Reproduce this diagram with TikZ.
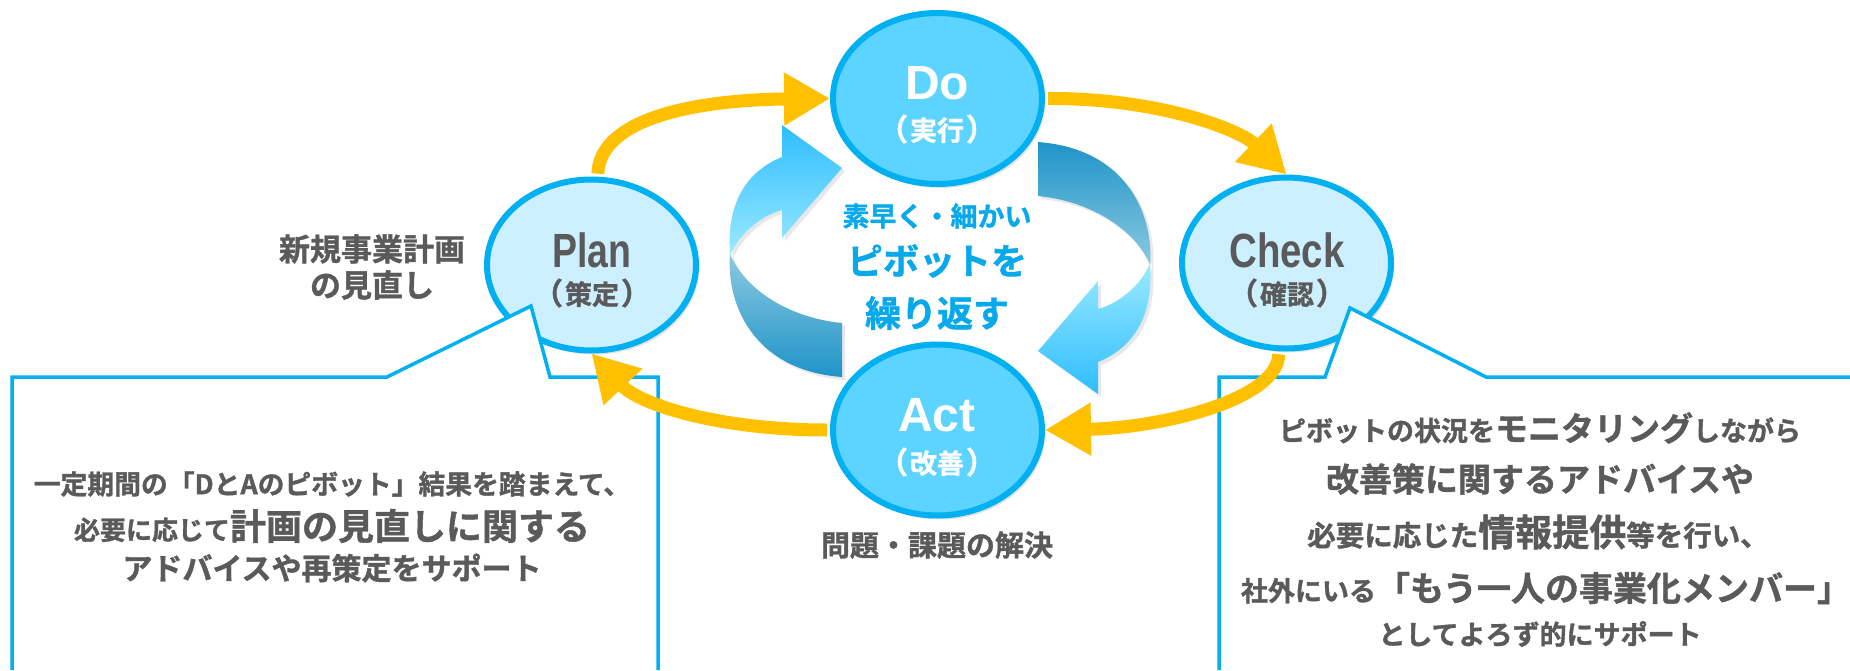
\documentclass[tikz,border=0pt]{standalone}
\usepackage{fontspec}
\usetikzlibrary{arrows.meta,shapes.geometric,shadows}
\newfontfamily\jp[FakeBold=1.2]{Noto Sans CJK JP Bold}
\newfontfamily\lat{Liberation Sans Bold}
\definecolor{cyanline}{HTML}{00B0F0}
\definecolor{dofill}{HTML}{5DD3FF}
\definecolor{planfill}{HTML}{CCF0FF}
\definecolor{orangearr}{HTML}{FFC000}
\definecolor{graytxt}{HTML}{5A5A5A}
\definecolor{bluetxt}{HTML}{08A9EA}
\definecolor{arrA}{HTML}{2EBDFF}
\definecolor{arrB}{HTML}{9CEAFF}
\definecolor{arrC}{HTML}{8CC9E0}
\definecolor{arrD}{HTML}{1E94C8}
\newcommand{\fz}[1]{\fontsize{#1pt}{#1pt}\selectfont}
\newcommand{\paren}[1]{{\fz{30}（}\hspace{2pt}#1\hspace{2pt}{\fz{30}）}}
\tikzset{
  phase/.style={ellipse, draw=cyanline, line width=6pt, inner sep=0pt,
    minimum width=209pt, minimum height=171pt,
    drop shadow={opacity=0.22, shadow xshift=3pt, shadow yshift=-4pt}},
  cyc/.style={draw=orangearr, line width=13pt, shorten <=3pt,
    -{Triangle[length=46pt,width=50pt]}},
  callout/.style={draw=cyanline, line width=3.5pt, line join=miter},
  gtxt/.style={text=graytxt, inner sep=0pt, font=\jp},
  wtxt/.style={text=white, inner sep=0pt},
  btxt/.style={text=bluetxt, inner sep=0pt, font=\jp},
  ribbon/.style={drop shadow={opacity=0.18, shadow xshift=3pt, shadow yshift=-3pt}}
}
\begin{document}
\begin{tikzpicture}[x=1pt,y=-1pt]
\useasboundingbox (0,0) rectangle (1850,670);

% blue circular arrows
\shade[ribbon, top color=arrA, bottom color=arrB]
  (782,125) -- (842,168) -- (782,238) -- (782,210)
  .. controls (760,216) and (738,235) .. (730,256)
  .. controls (726,205) and (745,172) .. (782,157) -- cycle;
\shade[ribbon, top color=arrC, bottom color=arrD]
  (730,254) .. controls (726,300) and (750,370) .. (842,377)
  -- (842,323) .. controls (790,318) and (745,290) .. (730,254) -- cycle;
\shade[ribbon, top color=arrD, bottom color=arrC]
  (1150,265) .. controls (1154,219) and (1130,149) .. (1038,142)
  -- (1038,196) .. controls (1090,201) and (1135,229) .. (1150,265) -- cycle;
\shade[ribbon, top color=arrB, bottom color=arrA]
  (1098,394) -- (1038,351) -- (1098,281) -- (1098,309)
  .. controls (1120,303) and (1142,284) .. (1150,263)
  .. controls (1154,314) and (1135,347) .. (1098,362) -- cycle;

% phase ellipses
\node[phase, fill=dofill] (do) at (937.5,98.5) {};
\node[phase, fill=dofill] (act) at (937.5,430) {};
\node[phase, fill=planfill] (plan) at (591.5,265) {};
\node[phase, fill=planfill] (check) at (1286.5,263) {};

% callout boxes
\fill[white] (12,670) -- (12,377) -- (387,377) -- (531,306) -- (550,377) -- (658,377) -- (658,670) -- cycle;
\draw[callout] (12,670) -- (12,377) -- (387,377) -- (531,306) -- (550,377) -- (658,377) -- (658,670);
\fill[white] (1219,670) -- (1219,377) -- (1325,377) -- (1350,308) -- (1486,377) -- (1850,377) -- (1850,670) -- cycle;
\draw[callout] (1219,670) -- (1219,377) -- (1325,377) -- (1350,308) -- (1486,377) -- (1850,377);

% orange cycle arrows
\draw[cyc] (plan.86) .. controls (600,120) and (690,100) .. (do.west);
\draw[cyc] (do.east) .. controls (1160,98) and (1240,130) .. (check.north);
\draw[cyc] (check.265) .. controls (1278,400) and (1160,428) .. (act.east);
\draw[cyc] (act.west) .. controls (720,430) and (640,405) .. (plan.south);

% phase titles
\node[wtxt, font={\lat\fz{48}}] (doT) at (937,83) {Do};
\node[wtxt, font={\jp\fz{27}}] (doS) at (937,129) {\paren{実行}};
\node[wtxt, font={\lat\fz{48}}] (actT) at (937,415) {Act};
\node[wtxt, font={\jp\fz{27}}] (actS) at (937,462) {\paren{改善}};
\node[gtxt, font={\lat\fz{48}}] (planT) at (592,250) {\scalebox{0.78}[1]{Plan}};
\node[gtxt, font={\jp\fz{27}}] (planS) at (592,293) {\paren{策定}};
\node[gtxt, font={\lat\fz{48}}] (checkT) at (1287,250) {\scalebox{0.8}[1]{Check}};
\node[gtxt, font={\jp\fz{27}}] (checkS) at (1287,293) {\paren{確認}};

% side notes
\node[gtxt, font={\jp\fz{31}}] (pn1) at (372,249) {新規事業計画};
\node[gtxt, font={\jp\fz{31}}] (pn2) at (372,285) {の見直し};
\node[gtxt, font={\jp\fz{29}}] (an1) at (937,545) {問題・課題の解決};

% centre text
\node[btxt, font={\jp\fz{27}}] (c1) at (937,216) {素早く・細かい};
\node[btxt, font={\jp\fz{36}}] (c2) at (937,261) {ピボットを};
\node[btxt, font={\jp\fz{36}}] (c3) at (937,313) {繰り返す};

% left box text
\node[gtxt, font={\jp\fz{26.8}}] (l1) at (332,484) {一定期間の「DとAのピボット」結果を踏まえて、};
\node[gtxt] (l2) at (332,526) {{\fz{26}必要に応じて}{\fz{36}計画の見直しに関する}};
\node[gtxt, font={\jp\fz{30}}] (l3) at (332,568) {アドバイスや再策定をサポート};

% right box text
\node[gtxt] (r1) at (1540,428) {{\fz{27}ピボットの状況を}{\fz{33}モニタリング}{\fz{27}しながら}};
\node[gtxt, font={\jp\fz{33}}] (r2) at (1540,479) {改善策に関するアドバイスや};
\node[gtxt] (r3) at (1538,532) {{\fz{28.5}必要に応じた}{\fz{37}情報提供}{\fz{28.5}等を行い、}};
\node[gtxt] (r4) at (1546,588) {{\fz{27}社外にいる}{\fz{34}「もう一人の事業化メンバー」}};
\node[gtxt, font={\jp\fz{27}}] (r5) at (1540,634) {としてよろず的にサポート};
\end{tikzpicture}
\end{document}
